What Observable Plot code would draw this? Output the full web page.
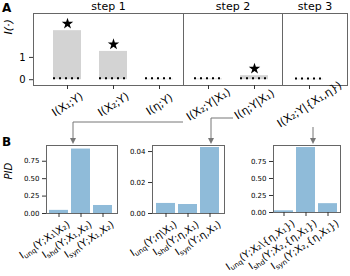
<!DOCTYPE html>
<html><head><meta charset="utf-8">
<script src="https://cdn.jsdelivr.net/npm/d3@7"></script>
<script src="https://cdn.jsdelivr.net/npm/@observablehq/plot@0.6"></script>
<style>
body{margin:0;background:#fff;}
#fig{position:relative;width:350px;height:276px;font-family:"DejaVu Sans",sans-serif;}
#fig svg{position:absolute;left:0;top:0;background:transparent;overflow:visible;}
</style></head><body><div id="fig"></div>
<script>
// ---- Panel A data ----
const infoLabels = ["I(X₁;Y)","I(X₂;Y)","I(η;Y)","I(X₂;Y|X₁)","I(η;Y|X₁)","I(X₂;Y|{X₁,η})"];
const infoSteps = ["step 1","step 1","step 1","step 2","step 2","step 3"];
const infoValues = [2.2, 1.27, 0.02, 0.03, 0.18, 0.02];
const nullValues = [0.07, 0.07, 0.07, 0.07, 0.07, 0.05];
const significant = [true, true, false, false, true, false];
const infoTicks = [0, 1];
const stepNames = ["step 1","step 2","step 3"];

// ---- Panel B data ----
const pidLabels1 = ["I_unq(Y;X₁\\X₂)","I_shd(Y;X₁,X₂)","I_syn(Y;X₁,X₂)"];
const pidValues1 = [0.045, 0.925, 0.115];
const pidTicks1 = [0, 0.25, 0.5, 0.75];
const pidLabels2 = ["I_unq(Y;η\\X₁)","I_shd(Y;η,X₁)","I_syn(Y;η,X₁)"];
const pidValues2 = [0.0065, 0.0058, 0.0426];
const pidTicks2 = [0, 0.02, 0.04];
const pidLabels3 = ["I_unq(Y;X₂\\{η,X₁})","I_shd(Y;X₂,{η,X₁})","I_syn(Y;X₂,{η,X₁})"];
const pidValues3 = [0.025, 0.955, 0.13];
const pidTicks3 = [0, 0.25, 0.5, 0.75];

const W = 350, H = 276;
const FONT = "DejaVu Sans";
const fig = document.getElementById("fig");
const baseStyle = {background:"transparent", overflow:"visible", fontFamily:FONT, color:"#000"};

function subscripts(svg){
  d3.select(svg).selectAll("text").each(function(){
    const t = this.textContent;
    if (!t.includes("_")) return;
    const parts = t.split(/_([a-z]+)/);
    const el = d3.select(this);
    el.text(null);
    parts.forEach((p,i)=>{
      if (i%2===1) el.append("tspan").attr("font-size","70%").attr("dy","0.3em").text(p);
      else el.append("tspan").attr("dy", i>0 ? "-0.21em" : null).text(p);
    });
  });
}

// Panel A
const infoRows = infoLabels.map((label,i)=>({label, step:infoSteps[i], value:infoValues[i], nul:nullValues[i], sig:significant[i]}));
const sections = [
  {left:33, right:183, range:[44,182]},
  {left:183, right:282, range:[185,277]},
  {left:282, right:347, range:[286,332]}
];
stepNames.forEach((step,k)=>{
  const s = sections[k];
  const rows = infoRows.filter(d=>d.step===step);
  const svg = Plot.plot({
    width:W, height:H,
    marginLeft:s.left, marginRight:W-s.right, marginTop:13, marginBottom:H-85,
    style:baseStyle,
    x:{type:"band", domain:rows.map(d=>d.label), range:s.range, paddingInner:0.4, paddingOuter:0.2, axis:null},
    y:{domain:[-0.26,2.97], axis:null},
    marks:[
      Plot.barY(rows,{x:"label", y:"value", fill:"#d3d3d3"}),
      Plot.tickY(rows,{x:"label", y:"nul", stroke:"#000", strokeWidth:2, strokeDasharray:"2,4"}),
      Plot.dot(rows.filter(d=>d.sig),{x:"label", y:"value", symbol:"star", r:3.6, fill:"#000", stroke:null, dy:-7}),
      Plot.frame({stroke:"#666"}),
      Plot.axisX({tickSize:4, tickFormat:()=>"", label:null, stroke:"#333"}),
      Plot.text(rows,{x:"label", text:"label", frameAnchor:"bottom", dy:19, rotate:-33, textAnchor:"middle", lineAnchor:"middle", fontSize:11}),
      Plot.text([step],{text:d=>d, frameAnchor:"top", dy:-7, fontSize:11, lineAnchor:"middle"}),
      k===0 ? Plot.axisY({ticks:infoTicks, tickFormat:d3.format("d"), tickSize:4, tickPadding:4, fontSize:10, label:null, stroke:"#333"}) : null,
      k===0 ? Plot.text(["I(·)"],{text:d=>d, frameAnchor:"top-left", dx:-25, dy:21, rotate:-90, fontStyle:"italic", fontSize:11, lineAnchor:"middle"}) : null
    ]
  });
  fig.appendChild(svg);
});

// Panel B
const pidPanels = [
  {labels:pidLabels1, values:pidValues1, ticks:pidTicks1, ymax:0.976, left:46, right:117, range:[47,115], bottom:213, ylabel:true},
  {labels:pidLabels2, values:pidValues2, ticks:pidTicks2, ymax:0.0439, left:152, right:224, range:[153.6,221.9], bottom:213},
  {labels:pidLabels3, values:pidValues3, ticks:pidTicks3, ymax:0.985, left:273, right:340, range:[272.5,339.5], bottom:212}
];
pidPanels.forEach(p=>{
  const rows = p.labels.map((label,i)=>({label, value:p.values[i]}));
  const svg = Plot.plot({
    width:W, height:H,
    marginLeft:p.left, marginRight:W-p.right, marginTop:145, marginBottom:H-p.bottom,
    style:baseStyle,
    x:{type:"band", domain:p.labels, range:p.range, paddingInner:0.12, paddingOuter:0.06, axis:null},
    y:{domain:[0,p.ymax], axis:null},
    marks:[
      Plot.barY(rows,{x:"label", y:"value", fill:"#8fbbd9"}),
      Plot.frame({stroke:"#666"}),
      Plot.axisX({tickSize:4, tickFormat:()=>"", label:null, stroke:"#333"}),
      Plot.axisY({ticks:p.ticks, tickFormat:d3.format(".2f"), tickSize:4, tickPadding:3, fontSize:7, label:null, stroke:"#333"}),
      Plot.text(rows,{x:"label", text:"label", frameAnchor:"bottom", dx:10, dy:10, rotate:-34, textAnchor:"end", lineAnchor:"middle", fontSize:10}),
      p.ylabel ? Plot.text(["PID"],{text:d=>d, frameAnchor:"left", dx:-38, rotate:-90, fontStyle:"italic", fontSize:10, lineAnchor:"middle"}) : null
    ]
  });
  subscripts(svg);
  fig.appendChild(svg);
});

// Connectors and panel letters
const ov = d3.create("svg").attr("width",W).attr("height",H);
const conn = [
  [[183,122],[73,122],[73,144]],
  [[233,118],[211,118],[211,144]],
  [[313,127],[313,144]]
];
conn.forEach(pts=>{
  const tip = pts[pts.length-1];
  ov.append("path").attr("d", d3.line()(pts.slice(0,-1).concat([[tip[0],tip[1]-5]])))
    .attr("fill","none").attr("stroke","#777").attr("stroke-width",1);
  ov.append("path").attr("d",`M${tip[0]-3},${tip[1]-6}L${tip[0]+3},${tip[1]-6}L${tip[0]},${tip[1]}Z`).attr("fill","#777");
});
ov.append("text").attr("x",2).attr("y",12).attr("font-family",FONT).attr("font-weight","bold").attr("font-size",12).text("A");
ov.append("text").attr("x",2).attr("y",146).attr("font-family",FONT).attr("font-weight","bold").attr("font-size",12).text("B");
fig.appendChild(ov.node());
</script></body></html>
